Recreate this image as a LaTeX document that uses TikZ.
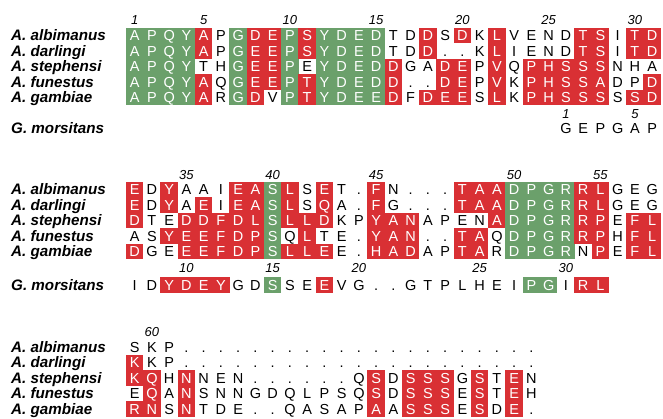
\documentclass[tikz,border=0pt]{standalone}
\usepackage{fontspec}
\setmainfont{Liberation Sans}
\definecolor{algreen}{RGB}{107,160,107}
\definecolor{alred}{RGB}{217,48,52}
\tikzset{
	cell/.style={inner sep=0pt, minimum width=17.6bp, minimum height=15.9bp, text height=10.3bp, text depth=0bp, font=\fontsize{14.5bp}{14.5bp}\selectfont},
	gn/.style={fill=algreen, text=white},
	rd/.style={fill=alred, text=white},
	wt/.style={text=black},
	species/.style={anchor=west, inner sep=0pt, text height=10bp, text depth=0bp, font=\fontsize{15.2bp}{15.2bp}\selectfont\bfseries\itshape},
	resnum/.style={inner sep=0pt, font=\fontsize{13bp}{13bp}\selectfont\itshape}
}
\newcommand{\seqrow}[4]{%
	\foreach \res/\cl [count=\i from #2] in {#4}
		\node[cell,\cl] (#1-\i) at ({117.4+17.25*\i},#3) {\res};
}

\begin{document}
\begin{tikzpicture}[x=1bp,y=-1bp]
	\useasboundingbox (0,0) rectangle (663,418);

	\foreach \sp/\k in {albimanus/0,darlingi/1,stephensi/2,funestus/3,gambiae/4}{
		\node[species] (\sp-a) at (11,{35.5+15.5*\k}) {A. \sp};
		\node[species] (\sp-b) at (11,{189.5+15.5*\k}) {A. \sp};
		\node[species] (\sp-c) at (11,{347+15.5*\k}) {A. \sp};
	}
	\node[species] (morsitans-a) at (11,128) {G. morsitans};
	\node[species] (morsitans-b) at (11,285) {G. morsitans};

	\foreach \n/\c in {1/1,5/5,10/10,15/15,20/20,25/25,30/30}
		\node[resnum] (numa-\n) at ({117.4+17.25*\c},20) {\n};
	\foreach \n/\c in {35/4,40/9,45/15,50/23,55/28}
		\node[resnum] (numb-\n) at ({117.4+17.25*\c},175) {\n};
	\node[resnum] (numc-60) at ({117.4+17.25*2},332) {60};
	\foreach \n/\c in {1/26,5/30}
		\node[resnum] (gma-\n) at ({117.4+17.25*\c},114) {\n};
	\foreach \n/\c in {10/4,15/9,20/14,25/21,30/26}
		\node[resnum] (gmb-\n) at ({117.4+17.25*\c},268) {\n};

	\seqrow{alba}{1}{35.5}{A/gn,P/gn,Q/gn,Y/gn,A/rd,P/wt,G/gn,D/rd,E/rd,P/gn,S/rd,Y/gn,D/gn,E/gn,D/gn,T/wt,D/wt,D/rd,S/wt,D/rd,K/wt,L/rd,V/wt,E/wt,N/wt,D/wt,T/rd,S/rd,I/wt,T/rd,D/rd}
	\seqrow{dara}{1}{51}{A/gn,P/gn,Q/gn,Y/gn,A/rd,P/wt,G/gn,E/rd,E/rd,P/gn,S/rd,Y/gn,D/gn,E/gn,D/gn,T/wt,D/wt,D/rd,./wt,./wt,K/wt,L/rd,I/wt,E/wt,N/wt,D/wt,T/rd,S/rd,I/wt,T/rd,D/rd}
	\seqrow{stea}{1}{66.5}{A/gn,P/gn,Q/gn,Y/gn,T/wt,H/wt,G/gn,E/rd,E/rd,P/gn,E/wt,Y/gn,D/gn,E/gn,D/gn,D/rd,G/wt,A/wt,D/rd,E/rd,P/wt,V/rd,Q/wt,P/rd,H/rd,S/rd,S/rd,S/rd,N/wt,H/wt,A/wt}
	\seqrow{funa}{1}{82}{A/gn,P/gn,Q/gn,Y/gn,A/rd,Q/wt,G/gn,E/rd,E/rd,P/gn,T/rd,Y/gn,D/gn,E/gn,D/gn,D/rd,./wt,./wt,D/rd,E/rd,P/wt,V/rd,K/wt,P/rd,H/rd,S/rd,S/rd,A/rd,D/wt,P/wt,D/rd}
	\seqrow{gama}{1}{97.5}{A/gn,P/gn,Q/gn,Y/gn,A/rd,R/wt,G/gn,D/rd,V/wt,P/gn,T/rd,Y/gn,D/gn,E/gn,E/gn,D/rd,F/wt,D/rd,E/rd,E/rd,S/wt,L/rd,K/wt,P/rd,H/rd,S/rd,S/rd,S/rd,S/wt,S/rd,D/rd}
	\seqrow{mora}{26}{128}{G/wt,E/wt,P/wt,G/wt,A/wt,P/wt}

	\seqrow{albb}{1}{189.5}{E/rd,D/wt,Y/rd,A/wt,A/wt,I/wt,E/rd,A/rd,S/gn,L/rd,S/wt,E/rd,T/wt,./wt,F/rd,N/wt,./wt,./wt,./wt,T/rd,A/rd,A/rd,D/gn,P/gn,G/gn,R/gn,R/rd,L/rd,G/wt,E/wt,G/wt}
	\seqrow{darb}{1}{205}{E/rd,D/wt,Y/rd,A/wt,E/rd,I/wt,E/rd,A/rd,S/gn,L/rd,S/wt,Q/rd,A/wt,./wt,F/rd,G/wt,./wt,./wt,./wt,T/rd,A/rd,A/rd,D/gn,P/gn,G/gn,R/gn,R/rd,L/rd,G/wt,E/wt,G/wt}
	\seqrow{steb}{1}{220.5}{D/rd,T/wt,E/wt,D/rd,D/rd,F/rd,D/rd,L/rd,S/gn,L/rd,L/rd,D/rd,K/wt,P/wt,Y/rd,A/rd,N/rd,A/wt,P/wt,E/wt,N/wt,A/rd,D/gn,P/gn,G/gn,R/gn,R/rd,P/rd,E/wt,F/rd,L/rd}
	\seqrow{funb}{1}{236}{A/wt,S/wt,Y/rd,E/rd,E/rd,F/rd,D/rd,P/rd,S/gn,Q/wt,L/rd,T/wt,E/wt,./wt,Y/rd,A/rd,N/rd,./wt,./wt,T/rd,A/rd,Q/wt,D/gn,P/gn,G/gn,R/gn,R/rd,P/rd,H/wt,F/rd,L/rd}
	\seqrow{gamb}{1}{251.5}{D/rd,G/wt,E/wt,E/rd,E/rd,F/rd,D/rd,P/rd,S/gn,L/rd,L/rd,E/rd,E/wt,./wt,H/rd,A/rd,D/rd,A/wt,P/wt,T/rd,A/rd,R/wt,D/gn,P/gn,G/gn,R/gn,N/wt,P/rd,E/wt,F/rd,L/rd}
	\seqrow{morb}{1}{285}{I/wt,D/wt,Y/rd,D/rd,E/rd,Y/rd,G/wt,D/wt,S/gn,S/wt,E/wt,E/rd,V/wt,G/wt,./wt,./wt,G/wt,T/wt,P/wt,L/wt,H/wt,E/wt,I/wt,P/gn,G/gn,I/wt,R/rd,L/rd}

	\seqrow{albc}{1}{347}{S/wt,K/wt,P/wt,./wt,./wt,./wt,./wt,./wt,./wt,./wt,./wt,./wt,./wt,./wt,./wt,./wt,./wt,./wt,./wt,./wt,./wt,./wt,./wt,./wt}
	\seqrow{darc}{1}{362.5}{K/rd,K/wt,P/wt,./wt,./wt,./wt,./wt,./wt,./wt,./wt,./wt,./wt,./wt,./wt,./wt,./wt,./wt,./wt,./wt,./wt,./wt,./wt,./wt,./wt}
	\seqrow{stec}{1}{378}{K/rd,Q/rd,H/wt,N/rd,N/wt,E/wt,N/wt,./wt,./wt,./wt,./wt,./wt,./wt,Q/wt,S/rd,D/wt,S/rd,S/rd,S/rd,G/wt,S/rd,T/wt,E/rd,N/wt}
	\seqrow{func}{1}{393.5}{E/wt,Q/rd,A/wt,N/rd,S/wt,N/wt,N/wt,G/wt,D/wt,Q/wt,L/wt,P/wt,S/wt,Q/wt,S/rd,D/wt,S/rd,S/rd,S/rd,E/wt,S/rd,T/wt,E/rd,H/wt}
	\seqrow{gamc}{1}{409}{R/rd,N/rd,S/wt,N/rd,T/wt,D/wt,E/wt,./wt,./wt,Q/wt,A/wt,S/wt,A/wt,P/wt,A/rd,A/wt,S/rd,S/rd,S/rd,E/wt,S/rd,D/wt,E/rd,./wt}
\end{tikzpicture}
\end{document}
